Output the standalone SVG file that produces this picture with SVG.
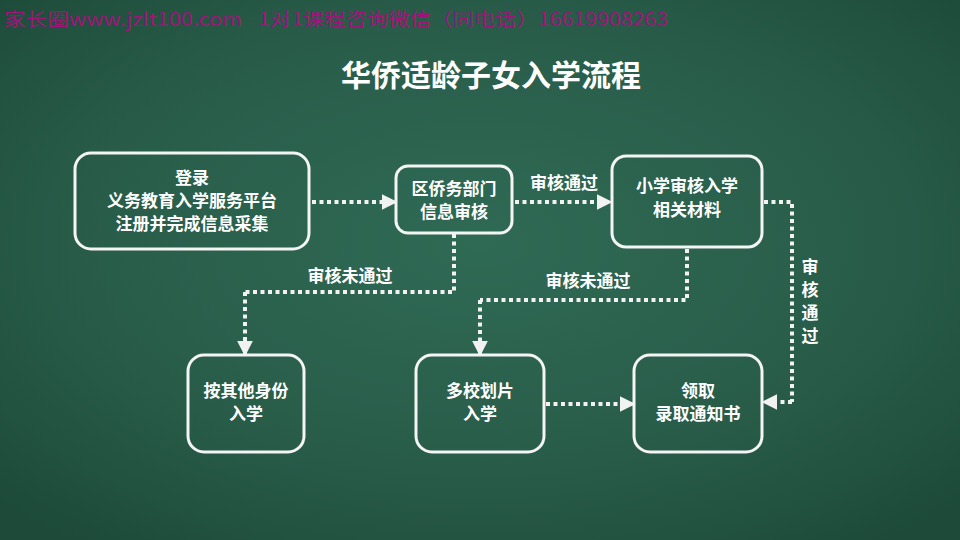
<svg xmlns="http://www.w3.org/2000/svg" width="960" height="540" viewBox="0 0 960 540">
<defs>
<radialGradient id="bg" cx="50%" cy="45%" r="70%">
<stop offset="0" stop-color="#2f6a55"/>
<stop offset="0.6" stop-color="#285c49"/>
<stop offset="1" stop-color="#1d4a39"/>
</radialGradient>
<marker id="ah" viewBox="0 0 10 10" refX="9" refY="5" markerWidth="4" markerHeight="4" orient="auto" markerUnits="strokeWidth">
<path d="M0,0 L10,5 L0,10 z" fill="#f2f2f2"/>
</marker>
<style>
.box{fill:none;stroke:#f4f4f4;stroke-width:3}
.t{font-family:"Noto Sans CJK SC","Liberation Serif",serif;font-weight:bold;font-size:17px;fill:#ffffff;text-anchor:middle}
.w{font-family:"Noto Sans CJK SC","Liberation Sans",sans-serif;font-size:18.5px;fill:#a0147a}
.c{fill:none;stroke:#f2f2f2;stroke-width:4;stroke-dasharray:4 3.5}
.ca{fill:none;stroke:#f2f2f2;stroke-width:4;stroke-dasharray:4 3.5;marker-end:url(#ah)}
</style>
</defs>
<rect width="960" height="540" fill="url(#bg)"/>
<text class="w" x="4" y="26" textLength="238" lengthAdjust="spacingAndGlyphs">家长圈www.jzlt100.com</text>
<text class="w" x="258" y="26" textLength="410" lengthAdjust="spacingAndGlyphs">1对1课程咨询微信（同电话）16619908263</text>
<text x="491" y="86" class="t" style="font-size:30px">华侨适龄子女入学流程</text>

<g id="connectors">
<path class="ca" d="M312,202 H396"/>
<path class="ca" d="M515,202 H611"/>
<text class="t" x="564" y="189">审核通过</text>
<path class="c" d="M454,234 V292 H245"/>
<path class="ca" d="M245,292 V355"/>
<text class="t" x="350" y="282">审核未通过</text>
<path class="c" d="M687,249 V300 H480"/>
<path class="ca" d="M480,300 V355"/>
<text class="t" x="588" y="287">审核未通过</text>
<path class="c" d="M764,202 H792 V402"/>
<path class="ca" d="M792,402 H763"/>
<text class="t" x="810" y="273">审</text>
<text class="t" x="810" y="296">核</text>
<text class="t" x="810" y="319">通</text>
<text class="t" x="810" y="342">过</text>
<path class="ca" d="M546,404 H634"/>
</g>

<g id="n1">
<rect class="box" x="75" y="153" width="234" height="96" rx="16"/>
<text class="t" x="192" y="184">登录</text>
<text class="t" x="192" y="207">义务教育入学服务平台</text>
<text class="t" x="192" y="230">注册并完成信息采集</text>
</g>
<g id="n2">
<rect class="box" x="396" y="166" width="116" height="67" rx="12"/>
<text class="t" x="454" y="195">区侨务部门</text>
<text class="t" x="454" y="218">信息审核</text>
</g>
<g id="n3">
<rect class="box" x="612" y="156" width="150" height="91" rx="14"/>
<text class="t" x="687" y="192">小学审核入学</text>
<text class="t" x="687" y="216">相关材料</text>
</g>
<g id="n4">
<rect class="box" x="188" y="355" width="116" height="97" rx="16"/>
<text class="t" x="246" y="397">按其他身份</text>
<text class="t" x="246" y="420">入学</text>
</g>
<g id="n5">
<rect class="box" x="416" y="355" width="128" height="97" rx="16"/>
<text class="t" x="480" y="397">多校划片</text>
<text class="t" x="480" y="420">入学</text>
</g>
<g id="n6">
<rect class="box" x="634" y="355" width="128" height="97" rx="16"/>
<text class="t" x="698" y="397">领取</text>
<text class="t" x="698" y="420">录取通知书</text>
</g>
</svg>
